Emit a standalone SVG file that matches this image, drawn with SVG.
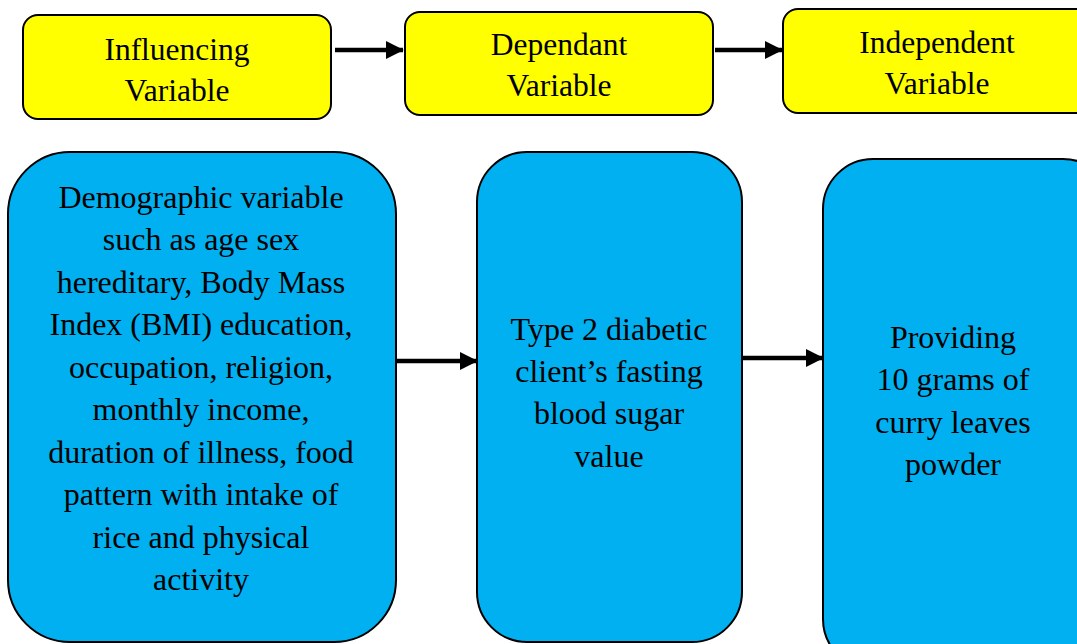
<svg xmlns="http://www.w3.org/2000/svg" width="1077" height="644" viewBox="0 0 1077 644">
<style>
.y{fill:#FFFF00;stroke:#000;stroke-width:2}
.b{fill:#00B0F0;stroke:#000;stroke-width:2}
.t{font-family:"Liberation Serif","Times New Roman",serif;font-size:31.5px;fill:#000;text-anchor:middle}
.tb{font-family:"Liberation Serif","Times New Roman",serif;font-size:32px;fill:#000;text-anchor:middle}
.c{stroke:#000;stroke-width:4.5;fill:none}
</style>
<defs>
<marker id="ah" markerWidth="4" markerHeight="4" refX="3.8" refY="2" orient="auto" markerUnits="strokeWidth">
<path d="M0,0 L4,2 L0,4 Z" fill="#000"/>
</marker>
</defs>
<rect width="1077" height="644" fill="#fff"/>
<g id="n1">
<rect class="y" x="23" y="15" width="308" height="104" rx="15"/>
<text class="t" x="177" y="60">Influencing</text>
<text class="t" x="177" y="101">Variable</text>
</g>
<g id="n2">
<rect class="y" x="405" y="12" width="308" height="103" rx="15"/>
<text class="t" x="559" y="55">Dependant</text>
<text class="t" x="559" y="96">Variable</text>
</g>
<g id="n3">
<rect class="y" x="783" y="9" width="310" height="104" rx="15"/>
<text class="t" x="937" y="53">Independent</text>
<text class="t" x="937" y="94">Variable</text>
</g>
<g id="n4">
<rect class="b" x="8" y="152" width="388" height="490" rx="62"/>
<text class="tb" x="201" y="208">Demographic variable</text>
<text class="tb" x="201" y="250">such as age sex</text>
<text class="tb" x="201" y="293">hereditary, Body Mass</text>
<text class="tb" x="201" y="335">Index (BMI) education,</text>
<text class="tb" x="201" y="378">occupation, religion,</text>
<text class="tb" x="201" y="420">monthly income,</text>
<text class="tb" x="201" y="463">duration of illness, food</text>
<text class="tb" x="201" y="505">pattern with intake of</text>
<text class="tb" x="201" y="548">rice and physical</text>
<text class="tb" x="201" y="590">activity</text>
</g>
<g id="n5">
<rect class="b" x="477" y="152" width="265" height="490" rx="50"/>
<text class="tb" x="609" y="340">Type 2 diabetic</text>
<text class="tb" x="609" y="382">client’s fasting</text>
<text class="tb" x="609" y="424">blood sugar</text>
<text class="tb" x="609" y="467">value</text>
</g>
<g id="n6">
<rect class="b" x="823" y="159" width="290" height="510" rx="50"/>
<text class="tb" x="953" y="348">Providing</text>
<text class="tb" x="953" y="390">10 grams of</text>
<text class="tb" x="953" y="433">curry leaves</text>
<text class="tb" x="953" y="475">powder</text>
</g>
<g id="connectors">
<line class="c" x1="335" y1="50" x2="403" y2="50" marker-end="url(#ah)"/>
<line class="c" x1="715" y1="50" x2="782" y2="50" marker-end="url(#ah)"/>
<line class="c" x1="397" y1="361" x2="477" y2="361" marker-end="url(#ah)"/>
<line class="c" x1="743" y1="358" x2="823" y2="358" marker-end="url(#ah)"/>
</g>
</svg>
